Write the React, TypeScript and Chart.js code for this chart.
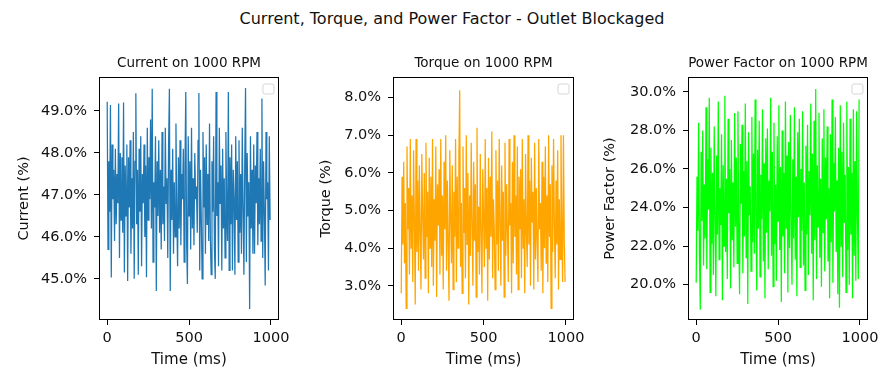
import { useEffect, useRef } from "react";
import { Chart, registerables } from "chart.js";

Chart.register(...registerables);

// ---- data ----
const TIME_STEP_MS = 5;

const CURRENT = [
  49.22, 45.7, 47.8, 46.6, 49.14, 45.03, 48.2, 46.9, 47.6, 45.9,
  48.1, 46.3, 47.5, 46.8, 49.18, 45.5, 48.0, 46.4, 47.9, 46.1,
  49.2, 45.15, 47.7, 46.5, 48.2, 44.95, 47.9, 46.7, 48.3, 45.6,
  47.4, 46.2, 48.5, 45.0, 47.8, 49.42, 46.3, 47.6, 45.1, 48.1,
  46.6, 48.4, 45.3, 47.5, 46.8, 48.2, 46.0, 47.7, 45.04, 48.6,
  46.4, 47.9, 46.9, 48.8, 46.2, 49.53, 45.4, 47.3, 46.7, 48.4,
  44.71, 47.8, 46.5, 48.3, 46.1, 47.6, 45.7, 48.5, 46.3, 47.2,
  45.9, 48.6, 46.8, 47.4, 45.5, 48.2, 49.53, 44.71, 47.6, 46.4,
  48.1, 45.6, 47.3, 46.0, 48.7, 46.6, 45.3, 47.9, 46.2, 48.3,
  45.8, 47.5, 46.9, 48.1, 45.4, 47.7, 49.45, 45.9, 44.88, 48.4,
  46.5, 47.8, 45.7, 48.6, 46.2, 47.4, 45.8, 48.0, 46.9, 47.2,
  46.1, 48.3, 49.43, 45.2, 47.6, 46.4, 45.0, 48.5, 46.7, 47.9,
  45.6, 48.2, 46.3, 47.5, 45.9, 48.7, 46.0, 45.1, 47.8, 46.6,
  48.4, 45.7, 45.0, 49.45, 46.5, 47.3, 45.3, 48.6, 46.8, 47.7,
  45.2, 48.1, 46.2, 47.4, 45.5, 48.5, 46.6, 45.9, 49.45, 45.2,
  47.9, 46.3, 48.2, 45.2, 47.6, 46.9, 45.1, 48.4, 46.4, 47.8,
  45.4, 48.3, 46.1, 47.5, 45.6, 48.6, 46.7, 45.1, 47.7, 49.55,
  45.4, 48.0, 46.5, 47.3, 44.28, 48.4, 46.2, 47.6, 45.6, 48.2,
  45.6, 47.7, 46.8, 48.5, 45.8, 47.4, 46.3, 48.1, 45.9, 49.3,
  45.5, 47.8, 46.6, 44.84, 48.5, 46.9, 47.3, 45.2, 48.4, 46.4,
];

const TORQUE = [
  2.8, 5.9, 4.1, 6.3, 3.6, 5.2, 2.4, 6.7, 4.5, 5.6,
  3.3, 6.9, 4.0, 5.4, 3.1, 6.6, 4.7, 2.5, 6.9, 3.9,
  5.8, 3.4, 6.2, 4.4, 2.9, 6.5, 4.9, 3.7, 6.0, 3.2,
  6.8, 4.3, 5.5, 2.8, 6.4, 4.0, 5.9, 3.5, 6.9, 3.0,
  5.3, 4.2, 6.7, 2.7, 5.7, 4.6, 6.1, 3.3, 6.9, 3.8,
  5.4, 2.9, 6.3, 4.5, 7.0, 3.4, 5.8, 4.1, 2.6, 6.6,
  4.8, 3.6, 6.2, 2.9, 5.5, 4.3, 6.9, 3.1, 5.9, 4.0,
  6.4, 8.2, 3.5, 5.2, 2.8, 6.7, 4.4, 5.6, 3.2, 7.0,
  4.1, 6.0, 2.5, 5.4, 3.8, 6.8, 4.6, 3.0, 6.3, 4.2,
  5.7, 2.7, 7.2, 3.9, 5.1, 3.3, 6.5, 4.4, 2.8, 6.1,
  4.8, 3.5, 6.9, 4.0, 5.6, 2.6, 6.4, 3.7, 5.9, 4.3,
  7.1, 3.2, 5.3, 4.5, 2.9, 6.6, 4.1, 5.8, 3.4, 6.9,
  4.7, 3.0, 6.2, 4.2, 5.5, 2.7, 6.8, 3.8, 5.7, 4.4,
  3.1, 6.9, 4.6, 5.2, 2.8, 6.3, 3.6, 7.0, 4.3, 5.4,
  3.3, 6.7, 2.9, 5.9, 4.5, 6.1, 3.2, 6.9, 4.0, 5.3,
  2.8, 6.5, 4.4, 3.5, 7.0, 4.1, 5.8, 3.0, 6.4, 4.7,
  5.5, 2.9, 6.8, 3.7, 5.6, 4.2, 3.1, 6.9, 4.5, 5.2,
  3.4, 6.3, 2.8, 5.9, 4.0, 6.7, 3.6, 5.4, 3.1, 7.0,
  4.3, 5.7, 2.4, 6.2, 3.9, 6.9, 4.6, 3.2, 5.8, 4.1,
  6.6, 2.9, 5.3, 3.7, 7.0, 4.4, 3.1, 7.0, 4.2, 3.1,
];

const POWER_FACTOR = [
  20.1, 25.6, 22.8, 28.4, 21.5, 18.7, 26.9, 23.3, 28.0, 21.0,
  25.2, 22.4, 29.2, 20.8, 26.5, 23.9, 29.7, 19.6, 27.1, 22.1,
  25.8, 20.5, 28.2, 23.5, 19.4, 26.7, 22.6, 29.5, 21.3, 25.0,
  23.1, 27.8, 19.2, 26.2, 22.0, 29.8, 21.7, 25.5, 20.3, 28.6,
  23.7, 26.0, 19.8, 27.5, 22.3, 25.3, 20.9, 28.9, 23.0, 26.6,
  21.1, 29.0, 22.7, 19.5, 27.3, 24.2, 28.3, 20.6, 25.9, 22.5,
  29.4, 21.4, 26.4, 19.0, 27.9, 23.6, 25.1, 20.7, 28.7, 22.2,
  26.8, 21.6, 29.6, 23.2, 19.7, 27.0, 22.9, 28.5, 20.4, 25.7,
  23.4, 29.1, 21.2, 26.3, 19.3, 27.6, 22.7, 28.1, 20.8, 25.4,
  23.8, 29.7, 21.5, 26.9, 19.9, 28.4, 22.1, 25.2, 20.2, 27.7,
  23.3, 29.3, 21.8, 26.1, 19.1, 28.0, 22.5, 25.8, 20.6, 29.5,
  22.9, 26.7, 19.6, 27.4, 21.9, 28.8, 23.1, 20.0, 26.5, 22.4,
  29.2, 21.3, 25.6, 19.4, 27.9, 23.5, 28.6, 20.9, 26.0, 22.8,
  29.0, 21.0, 25.3, 19.7, 27.2, 22.6, 28.3, 20.5, 25.9, 23.6,
  29.4, 21.6, 26.8, 19.2, 28.5, 22.3, 30.15, 20.3, 26.2, 23.0,
  28.9, 21.4, 25.5, 19.9, 27.6, 22.7, 29.1, 20.7, 26.6, 23.4,
  28.2, 21.2, 25.0, 19.3, 27.8, 22.2, 29.6, 20.1, 26.3, 23.8,
  28.7, 21.7, 25.4, 19.5, 27.1, 18.8, 29.3, 22.0, 26.9, 20.4,
  28.4, 23.2, 25.7, 19.6, 29.5, 21.8, 26.1, 20.0, 28.6, 22.6,
  25.8, 19.3, 29.1, 21.5, 26.4, 20.2, 29.0, 23.5, 20.3, 29.6,
];

const X_TICKS = [0, 500, 1000];
const CURRENT_TICKS = [45, 46, 47, 48, 49];
const TORQUE_TICKS = [3, 4, 5, 6, 7, 8];
const POWER_FACTOR_TICKS = [20, 22, 24, 26, 28, 30];

const MAIN_TITLE = "Current, Torque, and Power Factor - Outlet Blockaged";
const FONT = "'DejaVu Sans', Verdana, sans-serif";

type Panel = {
  title: string;
  yLabel: string;
  values: number[];
  color: string;
  ticks: number[];
  yMin: number;
  yMax: number;
  left: number;
  width: number;
  axisWidth: number;
  rightPad: number;
  yTitlePad: number;
};

const PANELS: Panel[] = [
  {
    title: "Current on 1000 RPM", yLabel: "Current (%)", values: CURRENT, color: "#1f77b4",
    ticks: CURRENT_TICKS, yMin: 44.02, yMax: 49.81,
    left: 0, width: 295, axisWidth: 99, rightPad: 14, yTitlePad: 15.2,
  },
  {
    title: "Torque on 1000 RPM", yLabel: "Torque (%)", values: TORQUE, color: "#ffa500",
    ticks: TORQUE_TICKS, yMin: 2.09, yMax: 8.55,
    left: 295, width: 295, axisWidth: 98, rightPad: 14, yTitlePad: 23.0,
  },
  {
    title: "Power Factor on 1000 RPM", yLabel: "Power Factor (%)", values: POWER_FACTOR, color: "#00ff00",
    ticks: POWER_FACTOR_TICKS, yMin: 18.17, yMax: 30.77,
    left: 590, width: 294, axisWidth: 98, rightPad: 14, yTitlePad: 12.0,
  },
];

const CANVAS_H = 371;

const framePlugin = {
  id: "frame",
  afterDraw(chart: any, _args: any, opts: any) {
    const { ctx, chartArea } = chart;
    const { left, top, right, bottom } = chartArea;
    ctx.save();
    // axes frame
    ctx.strokeStyle = "#000";
    ctx.lineWidth = 1;
    ctx.strokeRect(Math.round(left) + 0.5, Math.round(top) + 0.5, Math.round(right - left) - 1, Math.round(bottom - top) - 1);
    // empty legend box
    const bx = right - 16, by = top + 7, bw = 11, bh = 10, r = 2;
    ctx.beginPath();
    ctx.moveTo(bx + r, by);
    ctx.lineTo(bx + bw - r, by);
    ctx.quadraticCurveTo(bx + bw, by, bx + bw, by + r);
    ctx.lineTo(bx + bw, by + bh - r);
    ctx.quadraticCurveTo(bx + bw, by + bh, bx + bw - r, by + bh);
    ctx.lineTo(bx + r, by + bh);
    ctx.quadraticCurveTo(bx, by + bh, bx, by + bh - r);
    ctx.lineTo(bx, by + r);
    ctx.quadraticCurveTo(bx, by, bx + r, by);
    ctx.closePath();
    ctx.fillStyle = "rgba(255,255,255,0.8)";
    ctx.fill();
    ctx.strokeStyle = "#d6d6d6";
    ctx.stroke();
    // subplot title
    ctx.fillStyle = "#111";
    ctx.font = `13.5px ${FONT}`;
    ctx.textAlign = "center";
    ctx.textBaseline = "middle";
    ctx.fillText(opts.text, (left + right) / 2, 63);
    ctx.restore();
  },
};

function PanelChart({ p }: { p: Panel }) {
  const ref = useRef<HTMLCanvasElement | null>(null);
  useEffect(() => {
    if (!ref.current) return;
    const chart = new Chart(ref.current, {
      type: "line",
      data: {
        datasets: [
          {
            data: p.values.map((v, i) => ({ x: i * TIME_STEP_MS, y: v })),
            borderColor: p.color,
            borderWidth: 1.25,
            pointRadius: 0,
            tension: 0,
            fill: false,
          },
        ],
      },
      options: {
        animation: false,
        responsive: false,
        events: [],
        layout: { padding: { top: 77, right: p.rightPad, bottom: 0, left: 0 } },
        plugins: {
          legend: { display: false },
          tooltip: { enabled: false },
          title: { display: false },
          frame: { text: p.title },
        } as any,
        scales: {
          x: {
            type: "linear",
            min: -50,
            max: 1049,
            afterFit: (s: any) => { s.height = 51; },
            afterBuildTicks: (s: any) => { s.ticks = X_TICKS.map((v) => ({ value: v })); },
            grid: { drawOnChartArea: false, drawTicks: true, tickLength: 5, tickColor: "#000", color: "#000" },
            border: { display: false },
            ticks: { color: "#111", font: { family: FONT, size: 14.5 }, padding: 5, maxRotation: 0, autoSkip: false, callback: (v: any) => String(v) },
            title: { display: true, text: "Time (ms)", color: "#111", font: { family: FONT, size: 15 }, padding: { top: 0, bottom: 2 } },
          },
          y: {
            type: "linear",
            min: p.yMin,
            max: p.yMax,
            afterFit: (s: any) => { s.width = p.axisWidth; },
            afterBuildTicks: (s: any) => { s.ticks = p.ticks.map((v) => ({ value: v })); },
            grid: { drawOnChartArea: false, drawTicks: true, tickLength: 5, tickColor: "#000", color: "#000" },
            border: { display: false },
            ticks: { color: "#111", font: { family: FONT, size: 14.5 }, padding: 7, autoSkip: false, callback: (v: any) => Number(v).toFixed(1) + "%" },
            title: { display: true, text: p.yLabel, color: "#111", font: { family: FONT, size: 14.5 }, padding: { top: p.yTitlePad, bottom: 0 } },
          },
        },
      },
      plugins: [framePlugin],
    } as any);
    return () => chart.destroy();
  }, [p]);
  return (
    <canvas
      ref={ref}
      width={p.width}
      height={CANVAS_H}
      style={{ position: "absolute", left: p.left, top: 0, width: p.width, height: CANVAS_H }}
    />
  );
}

export default function App() {
  useEffect(() => {
    document.body.style.margin = "0";
  }, []);
  return (
    <div style={{ position: "relative", width: 884, height: CANVAS_H, background: "#fff", overflow: "hidden" }}>
      <div
        style={{
          position: "absolute", left: 0, top: 10, width: 904, textAlign: "center",
          fontFamily: FONT, fontSize: 16, lineHeight: "18px", color: "#111", whiteSpace: "nowrap",
        }}
      >
        {MAIN_TITLE}
      </div>
      {PANELS.map((p, i) => (
        <PanelChart key={i} p={p} />
      ))}
    </div>
  );
}
